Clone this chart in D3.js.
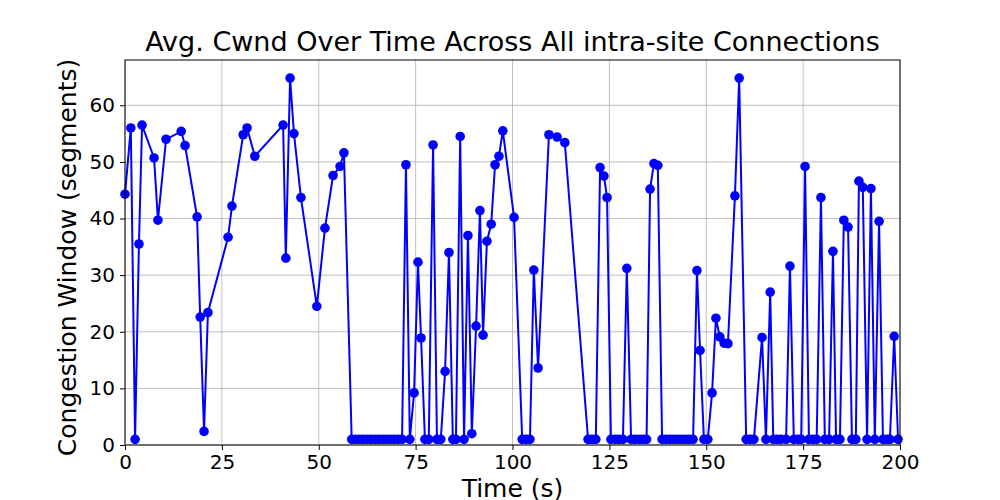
<!DOCTYPE html><html><head><meta charset="utf-8"><script src="https://cdn.jsdelivr.net/npm/d3@7"></script>
<style>body{margin:0;background:#fff}text{font-family:"DejaVu Sans",sans-serif}</style></head><body>
<svg id="c" width="1000" height="500"></svg>
<script>
const times=[0,1.5,2.6,3.6,4.4,7.5,8.5,10.6,14.5,15.5,18.6,19.4,20.4,21.4,26.6,27.6,30.5,31.5,33.5,40.8,41.5,42.6,43.6,45.4,49.5,51.6,53.7,55.5,56.5,
58.5,59.5,60.5,61.5,62.5,63.5,64.5,65.5,66.5,67.5,68.5,69.5,70.5,71.5,
72.5,73.5,74.6,75.6,76.4,77.4,78.4,79.5,80.5,81.5,82.6,83.6,84.6,85.4,86.5,87.5,88.5,89.5,90.6,91.6,92.4,93.4,94.5,95.5,96.5,97.5,100.4,
102.5,103.5,104.5,105.5,106.6,109.4,111.5,113.5,119.5,120.5,121.5,122.6,123.6,124.4,125.4,126.5,127.5,128.5,129.5,130.6,131.6,132.6,133.6,134.6,
135.5,136.5,137.5,138.6,139.6,140.6,141.6,142.6,143.6,144.6,145.6,146.6,147.6,148.4,149.4,150.4,151.5,152.5,153.5,154.6,155.6,157.4,158.5,
160.3,161.3,162.3,164.4,165.4,166.5,167.3,168.3,169.3,170.6,171.6,172.6,173.7,174.5,175.5,176.5,177.5,178.5,179.6,180.6,181.7,182.7,183.5,184.5,
185.5,186.6,187.6,188.6,189.4,190.4,191.5,192.5,193.5,194.6,195.6,196.6,197.4,198.5,199.5];
const cwnd=[44.3,56,1,35.5,56.5,50.7,39.7,54,55.4,52.9,40.3,22.6,2.4,23.4,36.7,42.2,54.8,56,51,56.5,33,64.8,55,43.7,24.5,38.3,47.6,49.2,51.6,
1,1,1,1,1,1,1,1,1,1,1,1,1,1,
49.5,1,9.2,32.3,18.9,1,1,53,1,1,13,34,1,1,54.5,1,37,2,21,41.4,19.4,36,39,49.5,51,55.5,40.2,
1,1,1,30.9,13.6,54.8,54.4,53.4,1,1,1,49,47.5,43.7,1,1,1,1,31.2,1,1,1,1,1,
45.2,49.7,49.4,1,1,1,1,1,1,1,1,1,30.8,16.7,1,1,9.2,22.4,19.1,18,17.9,44,64.8,
1,1,1,19,1,27,1,1,1,1,31.6,1,1,1,49.2,1,1,1,43.7,1,1,34.2,1,1,
39.7,38.5,1,1,46.6,45.5,1,45.3,1,39.5,1,1,1,19.2,1];
const xTicks=[0,25,50,75,100,125,150,175,200];
const yTicks=[0,10,20,30,40,50,60];
const data=times.map((t,i)=>({t,v:cwnd[i]}));
const svg=d3.select("#c");
const L=125,R=900,T=60,B=445;
const x=d3.scaleLinear().domain([0,200]).range([L,R]);
const y=d3.scaleLinear().domain([0,68]).range([B,T]);
const g=svg.append("g");
g.selectAll(".gx").data(xTicks).enter().append("line").attr("x1",d=>x(d)).attr("x2",d=>x(d)).attr("y1",T).attr("y2",B).attr("stroke","#b0b0b0").attr("stroke-width",0.8);
g.selectAll(".gy").data(yTicks).enter().append("line").attr("y1",d=>y(d)).attr("y2",d=>y(d)).attr("x1",L).attr("x2",R).attr("stroke","#b0b0b0").attr("stroke-width",0.8);
const line=d3.line().x(d=>x(d.t)).y(d=>y(d.v));
svg.append("path").datum(data).attr("d",line).attr("fill","none").attr("stroke","#0000ff").attr("stroke-width",2);
svg.selectAll("circle").data(data).enter().append("circle").attr("cx",d=>x(d.t)).attr("cy",d=>y(d.v)).attr("r",4.8).attr("fill","#0000ff");
svg.append("rect").attr("x",L).attr("y",T).attr("width",R-L).attr("height",B-T).attr("fill","none").attr("stroke","#000").attr("stroke-width",1);
const ax=svg.append("g").attr("transform",`translate(0,${B})`).call(d3.axisBottom(x).tickValues(xTicks).tickSize(5).tickPadding(5).tickFormat(d3.format("d")));
const ay=svg.append("g").attr("transform",`translate(${L},0)`).call(d3.axisLeft(y).tickValues(yTicks).tickSize(5).tickPadding(5).tickFormat(d3.format("d")));
[ax,ay].forEach(a=>{a.select(".domain").remove();a.selectAll("text").attr("font-size",20).attr("font-family","DejaVu Sans").attr("fill","#000");a.selectAll("line").attr("stroke","#000");});
svg.append("text").attr("x",(L+R)/2).attr("y",51).attr("text-anchor","middle").attr("font-size",27).text("Avg. Cwnd Over Time Across All intra-site Connections");
svg.append("text").attr("x",(L+R)/2).attr("y",497).attr("text-anchor","middle").attr("font-size",25).text("Time (s)");
svg.append("text").attr("transform",`translate(76,${(T+B)/2+5}) rotate(-90)`).attr("text-anchor","middle").attr("font-size",25).text("Congestion Window (segments)");
</script></body></html>
